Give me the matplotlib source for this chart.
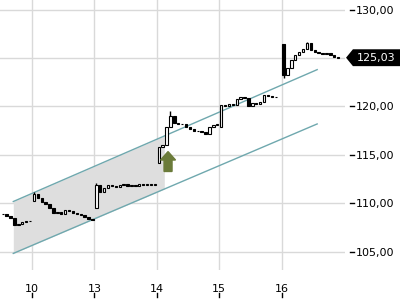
import matplotlib
matplotlib.use('Agg')
import matplotlib.pyplot as plt
import numpy as np
from matplotlib.patches import Polygon
from matplotlib.ticker import FuncFormatter

# trading days shown on the axis (weekend 11/12 skipped)
days = [9, 10, 13, 14, 15, 16]
first_bar = [8, 0, 0, 0, 0, 0]          # day 9 is only half visible
day_open = [108.9, 110.3, 109.5, 114.2, 117.9, 126.4]
closes = [
    [108.9, 108.7, 108.5, 107.8, 107.9, 108.1, 108.2, 108.2],
    [111.0, 110.6, 110.2, 109.9, 109.5, 109.0, 109.1, 108.9,
     109.3, 109.2, 109.0, 108.9, 108.8, 108.6, 108.4, 108.3],
    [111.9, 111.2, 111.6, 111.9, 111.8, 111.7, 111.9, 112.0,
     111.8, 111.9, 111.8, 112.0, 111.9, 112.0, 111.9, 112.0],
    [115.8, 116.0, 117.9, 119.0, 118.3, 118.2, 118.2, 117.9,
     117.7, 117.5, 117.5, 117.4, 117.2, 117.9, 118.1, 118.2],
    [120.2, 120.0, 120.3, 120.2, 120.8, 121.0, 120.9, 120.1,
     120.4, 120.3, 120.5, 121.2, 121.1, 121.0, 121.0],
    [123.2, 124.0, 124.8, 125.3, 125.6, 125.9, 126.5, 125.8,
     125.6, 125.5, 125.4, 125.5, 125.3, 125.1, 125.03],
]
# a few visible wicks: (day position, bar, low, high)
wicks = [(1, 0, 110.3, 111.2), (2, 0, 109.5, 112.1), (3, 3, 117.9, 119.5),
         (5, 0, 122.9, 126.4), (5, 6, 125.9, 126.6)]
last_price = 125.03

# trend channel
channel_x = [0.70, 5.57]
channel_upper = [110.2, 123.8]
channel_lower = [104.85, 118.2]
shade_end = 3.12

# buy signal arrow
arrow_x = 3.18
arrow_from = 113.3
arrow_to = 115.35

yticks = [105, 110, 115, 120, 125, 130]

fig = plt.figure(figsize=(4, 3), dpi=100)
ax = fig.add_axes([0, 0.1, 0.8625, 0.9])
ax.set_xlim(0.487, 6.016)
ax.set_ylim(103.14, 130.98)

for s in ax.spines.values():
    s.set_visible(False)
ax.grid(True, color='#d9d9d9', linewidth=1)
ax.set_axisbelow(True)

# channel fill + lines
xs = np.array([channel_x[0], shade_end])
up = np.interp(xs, channel_x, channel_upper)
lo = np.interp(xs, channel_x, channel_lower)
ax.fill_between(xs, lo, up, color='#dedede', zorder=1, linewidth=0)
ax.plot(channel_x, channel_upper, color='#6fa8ae', lw=1, zorder=2)
ax.plot(channel_x, channel_lower, color='#6fa8ae', lw=1, zorder=2)

# wicks
for d, k, lo_, hi_ in wicks:
    x = d + (first_bar[d] + k + 0.5) / 16
    ax.vlines(x, lo_, hi_, color='black', lw=1, zorder=2.5)

# candles
bw = 0.6 / 16
for d, (fb, o, cl) in enumerate(zip(first_bar, day_open, closes)):
    prev = o
    for k, c in enumerate(cl):
        x = d + (fb + k + 0.5) / 16
        fc = 'white' if c >= prev else 'black'
        ax.bar(x, c - prev, bottom=prev, width=bw, color=fc,
               edgecolor='black', linewidth=0.8, zorder=3)
        prev = c

ax.arrow(arrow_x, arrow_from, 0, arrow_to - arrow_from, width=0.128,
         head_width=0.24, head_length=0.87, length_includes_head=True,
         color='#6b7b3a', zorder=4)

# axes ticks
ax.set_xticks(range(1, len(days)))
ax.set_xticklabels([str(d) for d in days[1:]], fontsize=8)
ax.tick_params(axis='x', length=0, pad=10)
xtr = ax.get_xaxis_transform()
for t in range(1, len(days)):
    ax.plot([t, t], [-0.085, -0.1], color='black', lw=1,
            transform=xtr, clip_on=False)

ax.yaxis.tick_right()
ax.set_yticks(yticks)
ax.yaxis.set_major_formatter(FuncFormatter(lambda v, p: f'{v:.2f}'.replace('.', ',')))
ax.tick_params(axis='y', length=0, pad=8, labelsize=8)
ytr = ax.get_yaxis_transform()
for v in yticks:
    ax.plot([1.015, 1.025], [v, v], color='black', lw=1,
            transform=ytr, clip_on=False)

# last price tag
tag = Polygon([[1.003, last_price], [1.023, last_price + 0.87],
               [1.17, last_price + 0.87], [1.17, last_price - 0.87],
               [1.023, last_price - 0.87]], closed=True,
              facecolor='black', transform=ytr, clip_on=False, zorder=5)
ax.add_patch(tag)
ax.text(1.033, last_price, f'{last_price:.2f}'.replace('.', ','),
        color='white', fontsize=8, va='center', ha='left',
        transform=ytr, zorder=6)

fig.savefig('out.png', dpi=100)
